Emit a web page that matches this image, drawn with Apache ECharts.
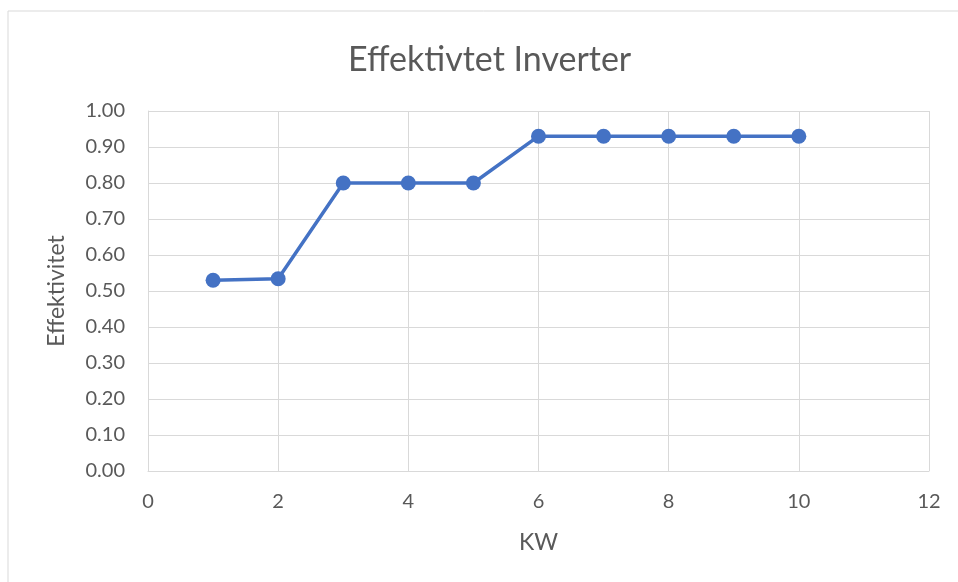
<!DOCTYPE html>
<html><head><meta charset="utf-8">
<script src="https://cdn.jsdelivr.net/npm/echarts@6/dist/echarts.min.js"></script>
<style>html,body{margin:0;padding:0;background:#fff}#c{width:958px;height:582px}</style>
</head><body><div id="c"></div>
<script>
const kw = [1, 2, 3, 4, 5, 6, 7, 8, 9, 10];
const efficiency = [0.53, 0.534, 0.80, 0.80, 0.80, 0.93, 0.93, 0.93, 0.93, 0.93];
const titleText = 'Effektivtet Inverter';
const xName = 'KW';
const yName = 'Effektivitet';

const font = 'Lato, "Open Sans", sans-serif';
const chart = echarts.init(document.getElementById('c'), null, {renderer: 'canvas'});
chart.setOption({
  animation: false,
  backgroundColor: '#fff',
  graphic: [{type: 'rect', shape: {x: 8, y: 11, width: 1000, height: 1000},
    style: {fill: 'none', stroke: '#d9d9d9', lineWidth: 1}, silent: true}],
  title: {text: titleText, left: 343, top: 38,
    textStyle: {fontFamily: font, fontSize: 34, fontWeight: 'normal', color: '#595959'}},
  grid: {left: 148, right: 29, top: 111, bottom: 111},
  xAxis: {type: 'value', min: 0, max: 12, interval: 2,
    name: xName, nameLocation: 'middle', nameGap: 60,
    nameTextStyle: {fontFamily: font, fontSize: 23, color: '#595959'},
    axisLine: {show: true, lineStyle: {color: '#d9d9d9', width: 1}},
    axisTick: {show: false},
    axisLabel: {fontFamily: font, fontSize: 20, color: '#595959', margin: 21},
    splitLine: {show: true, lineStyle: {color: '#d9d9d9', width: 1}}},
  yAxis: {type: 'value', min: 0, max: 1, interval: 0.1,
    name: yName, nameLocation: 'middle', nameGap: 80,
    nameTextStyle: {fontFamily: font, fontSize: 23, color: '#595959'},
    axisLine: {show: true, lineStyle: {color: '#d9d9d9', width: 1}},
    axisTick: {show: false},
    axisLabel: {fontFamily: font, fontSize: 20, color: '#595959', margin: 23,
      formatter: v => v.toFixed(2)},
    splitLine: {show: true, lineStyle: {color: '#d9d9d9', width: 1}}},
  series: [{type: 'line', data: kw.map((x, i) => [x, efficiency[i]]),
    symbol: 'circle', symbolSize: 15,
    lineStyle: {color: '#4472C4', width: 3.5},
    itemStyle: {color: '#4472C4'}}]
});
</script></body></html>
